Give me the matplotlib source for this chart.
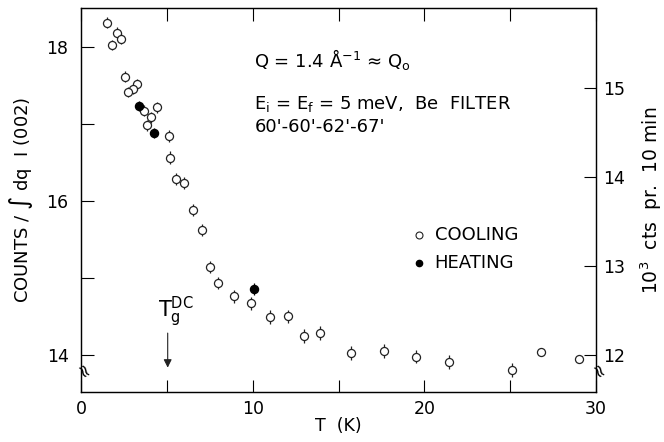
import matplotlib.pyplot as plt

plt.rcParams['font.family'] = ['DejaVu Sans']

# cooling run
t_cool = [1.49, 2.07, 2.31, 1.78, 2.56, 3.27, 3.0, 2.75, 3.66, 4.44, 4.09, 3.82,
          5.12, 5.21, 5.56, 5.99, 6.53, 7.02, 7.5, 7.98, 8.91, 9.88, 11.03, 12.05,
          12.97, 13.9, 15.7, 17.67, 19.52, 21.45, 25.1, 26.82, 29.0]
y_cool = [18.31, 18.18, 18.10, 18.02, 17.61, 17.51, 17.45, 17.41, 17.17, 17.21, 17.08, 16.98,
          16.84, 16.56, 16.28, 16.23, 15.88, 15.62, 15.14, 14.93, 14.76, 14.67, 14.49, 14.50,
          14.25, 14.28, 14.03, 14.05, 13.98, 13.91, 13.81, 14.04, 13.95]
e_cool = [0.07, 0.07, 0.07, 0.07, 0.07, 0.07, 0.07, 0.07, 0.07, 0.07, 0.07, 0.07,
          0.08, 0.08, 0.08, 0.08, 0.08, 0.08, 0.08, 0.08, 0.08, 0.08, 0.09, 0.09,
          0.09, 0.09, 0.09, 0.09, 0.09, 0.09, 0.09, 0.0, 0.0]

# heating run
t_heat = [3.39, 4.26, 10.08]
y_heat = [17.23, 16.88, 14.86]
e_heat = [0.06, 0.06, 0.08]

fig = plt.figure(figsize=(6.64, 4.42), dpi=100)
ax = fig.add_axes([0.122, 0.1131, 0.7756, 0.8688])

ax.errorbar(t_cool, y_cool, yerr=e_cool, fmt='o', ms=5.8, mfc='white', mec='#222222',
            mew=0.9, ecolor='#222222', elinewidth=0.9, capsize=0)
ax.errorbar(t_heat, y_heat, yerr=e_heat, fmt='o', ms=5.8, mfc='black', mec='black',
            ecolor='black', elinewidth=0.9, capsize=0)

ax.set_xlim(0, 30)
ax.set_ylim(13.52, 18.5)
ax.set_xticks([0, 5, 10, 15, 20, 25, 30])
ax.set_xticklabels(['0', '', '10', '', '20', '', '30'])
ax.set_yticks([14, 15, 16, 17, 18])
ax.set_yticklabels(['14', '', '16', '', '18'])
ax.tick_params(direction='in', length=9, width=0.8, labelsize=12.5, top=True, pad=6)
ax.tick_params(axis='y', pad=9)
for s in ax.spines.values():
    s.set_linewidth(1.0)
    s.set_color('#222222')

ax.set_xlabel('T  (K)', fontsize=12.5, labelpad=-1)
ax.set_ylabel(r'COUNTS / $\int$ dq  I (002)', fontsize=13, labelpad=8)

ax2 = ax.twinx()
ax2.set_ylim(11.584, 15.90)
ax2.set_yticks([12, 13, 14, 15])
ax2.tick_params(direction='in', length=9, width=0.8, labelsize=12.5, pad=5)
ax2.set_ylabel(r'10$^3$  cts  pr.  10 min', fontsize=13.5, labelpad=10)

# axis break marks
ax.text(0, 13.77, '≈', fontsize=13, ha='center', va='center', rotation=-60,
        clip_on=False)
ax.text(30, 13.77, '≈', fontsize=13, ha='center', va='center', rotation=-60,
        clip_on=False)

ax.text(10.1, 17.83, r'Q = 1.4 $\mathrm{\AA}^{-1}$ ≈ Q$_\mathrm{o}$', fontsize=13, va='center')
ax.text(10.1, 17.26, r'E$_\mathrm{i}$ = E$_\mathrm{f}$ = 5 meV,  Be  FILTER', fontsize=13,
        va='center')
ax.text(10.1, 16.96, "60'-60'-62'-67'", fontsize=13, va='center')

ax.plot([19.7], [15.55], 'o', ms=5, mfc='white', mec='#222222', mew=0.8)
ax.text(20.6, 15.55, 'COOLING', fontsize=13, va='center')
ax.plot([19.7], [15.19], 'o', ms=4.5, mfc='black', mec='black')
ax.text(20.6, 15.19, 'HEATING', fontsize=13, va='center')

ax.text(5.5, 14.34, r'T$_\mathrm{g}^\mathrm{DC}$', fontsize=15, ha='center', va='bottom')
ax.annotate('', xy=(5.05, 13.8), xytext=(5.05, 14.32),
            arrowprops=dict(arrowstyle='-|>', color='#222222', lw=0.8,
                            mutation_scale=12))

fig.savefig('out.png', dpi=100)
